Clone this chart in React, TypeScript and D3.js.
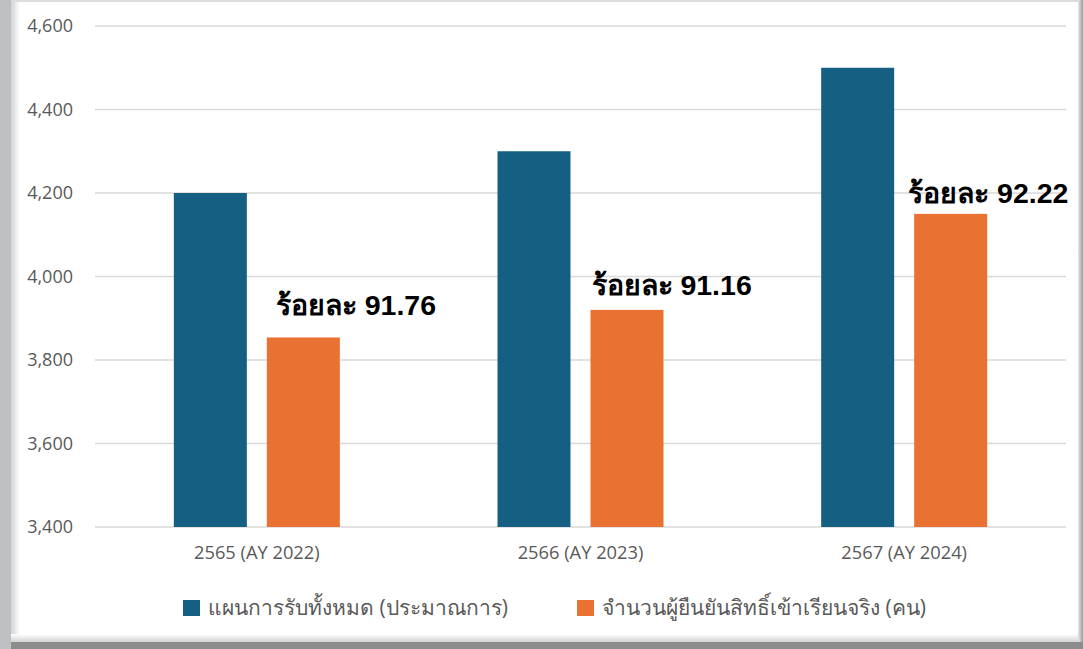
import React from "react";
import * as d3 from "d3";

const categories = ["2565 (AY 2022)", "2566 (AY 2023)", "2567 (AY 2024)"];
const planned = [4200, 4300, 4500];
const actual = [3854, 3920, 4150];
const percentLabels = ["ร้อยละ 91.76", "ร้อยละ 91.16", "ร้อยละ 92.22"];
const yTicks = [3400, 3600, 3800, 4000, 4200, 4400, 4600];
const seriesNames = ["แผนการรับทั้งหมด (ประมาณการ)", "จำนวนผู้ยืนยันสิทธิ์เข้าเรียนจริง (คน)"];
const colors = ["#156082", "#E97132"];

const W = 1083;
const H = 649;
const plot = { left: 95, right: 1066, top: 26, bottom: 527 };
const labelShift = [
  { dx: 9, dy: -22 },
  { dx: 1, dy: -15 },
  { dx: -6, dy: -11 },
];

export default function App() {
  const x = d3.scaleBand<string>().domain(categories).range([plot.left, plot.right]);
  const y = d3.scaleLinear().domain([3400, 4600]).range([plot.bottom, plot.top]);
  const barW = 73;
  const gap = 20;
  const fmt = d3.format(",");
  const font = "'Open Sans', 'Noto Sans', sans-serif";

  return (
    <svg width={W} height={H} style={{ position: "absolute", left: 0, top: 0 }}>
      <defs>
        <linearGradient id="lg" x1="0" x2="1" y1="0" y2="0">
          <stop offset="0" stopColor="#d2d3d6" />
          <stop offset="1" stopColor="#ffffff" />
        </linearGradient>
        <linearGradient id="bg" x1="0" x2="0" y1="0" y2="1">
          <stop offset="0" stopColor="#ffffff" />
          <stop offset="1" stopColor="#d2d2d2" />
        </linearGradient>
        <linearGradient id="rg" x1="0" x2="1" y1="0" y2="0">
          <stop offset="0" stopColor="#e8e8e8" />
          <stop offset="1" stopColor="#9a9a9a" />
        </linearGradient>
      </defs>
      <rect x={0} y={0} width={W} height={H} fill="#ffffff" />
      <rect x={0} y={0} width={W} height={2} fill="#dcdcdc" />
      <rect x={11} y={2} width={9} height={640} fill="url(#lg)" />
      <rect x={0} y={0} width={11} height={H} fill="#bfc0c4" />
      <rect x={11} y={634} width={1068} height={8} fill="url(#bg)" />
      <rect x={1078} y={0} width={5} height={H} fill="url(#rg)" />
      <rect x={11} y={642} width={W - 11} height={7} fill="#8c8c8c" />

      {yTicks.map((t) => (
        <g key={t}>
          <line x1={plot.left} x2={plot.right} y1={y(t)} y2={y(t)} stroke="#d9d9d9" strokeWidth={1.5} />
          <text x={73} y={y(t)} dy="0.35em" textAnchor="end" fontFamily={font} fontSize={18} fill="#595959">
            {fmt(t)}
          </text>
        </g>
      ))}

      {categories.map((c, i) => {
        const cx = (x(c) as number) + x.bandwidth() / 2;
        const bx = cx - gap / 2 - barW;
        const ox = cx + gap / 2;
        return (
          <g key={c}>
            <rect x={bx} y={y(planned[i])} width={barW} height={y(3400) - y(planned[i])} fill={colors[0]} />
            <rect x={ox} y={y(actual[i])} width={barW} height={y(3400) - y(actual[i])} fill={colors[1]} />
            <text
              x={ox + labelShift[i].dx}
              y={y(actual[i]) + labelShift[i].dy}
              fontFamily="'Liberation Sans', Arial, sans-serif"
              fontWeight="bold"
              fontSize={28.5}
              fill="#000000"
            >
              {percentLabels[i]}
            </text>
            <text x={cx} y={559} textAnchor="middle" fontFamily={font} fontSize={18.3} fill="#595959">
              {c}
            </text>
          </g>
        );
      })}

      {seriesNames.map((s, i) => {
        const lx = [183, 577][i];
        return (
          <g key={s}>
            <rect x={lx} y={600} width={17} height={16} fill={colors[i]} />
            <text x={lx + 25} y={615} fontFamily={font} fontSize={21} fill="#595959">
              {s}
            </text>
          </g>
        );
      })}
    </svg>
  );
}
